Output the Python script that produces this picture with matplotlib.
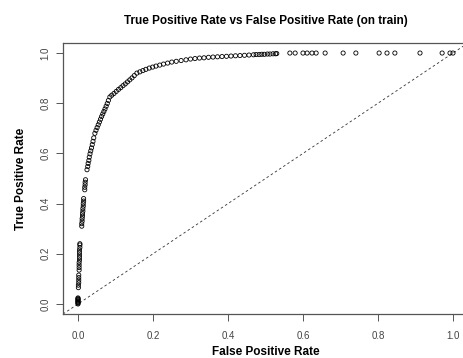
import matplotlib
matplotlib.use("Agg")
import matplotlib.pyplot as plt

plt.rcParams['font.family'] = ['Liberation Sans', 'DejaVu Sans']

# ROC points (false positive rate, true positive rate)
fpr = [
    0.000, 0.000, 0.000, 0.000, 0.000, 0.000, 0.000, 0.000, 0.000,
    0.001, 0.001, 0.002, 0.002, 0.002, 0.002,
    0.003, 0.003, 0.003, 0.003, 0.004, 0.004, 0.004, 0.004, 0.004, 0.005, 0.005, 0.005,
    0.010, 0.010, 0.011, 0.011, 0.012, 0.012, 0.013, 0.013, 0.014, 0.014, 0.015, 0.015,
    0.018, 0.018, 0.019, 0.019, 0.020,
    0.024, 0.026, 0.027, 0.029, 0.030, 0.032, 0.034, 0.036, 0.038, 0.040, 0.042, 0.045,
    0.048, 0.051, 0.054, 0.057, 0.060, 0.063, 0.066, 0.069, 0.072, 0.075, 0.078, 0.081, 0.085,
    0.090, 0.096, 0.102, 0.108, 0.114, 0.120, 0.126, 0.132, 0.138, 0.144, 0.150, 0.157,
    0.165, 0.173, 0.181, 0.190, 0.199, 0.208, 0.218, 0.228, 0.239, 0.250, 0.262, 0.275, 0.288, 0.300,
    0.312, 0.324, 0.336, 0.348, 0.360, 0.372, 0.384, 0.396, 0.408, 0.420, 0.432, 0.444, 0.456, 0.468,
    0.475, 0.483, 0.490, 0.497, 0.505, 0.512, 0.520, 0.527, 0.530,
    0.565, 0.579, 0.600, 0.611, 0.624, 0.635, 0.659, 0.707, 0.741,
    0.803, 0.824, 0.845, 0.912, 0.971, 0.992, 1.000,
]
tpr = [
    0.000, 0.003, 0.006, 0.009, 0.012, 0.015, 0.018, 0.021, 0.024,
    0.065, 0.075, 0.085, 0.095, 0.105, 0.115,
    0.135, 0.145, 0.155, 0.165, 0.175, 0.185, 0.195, 0.205, 0.215, 0.225, 0.235, 0.240,
    0.310, 0.320, 0.330, 0.340, 0.350, 0.360, 0.370, 0.380, 0.390, 0.400, 0.410, 0.420,
    0.455, 0.465, 0.475, 0.485, 0.495,
    0.535, 0.548, 0.560, 0.572, 0.585, 0.598, 0.610, 0.622, 0.635, 0.648, 0.662, 0.680,
    0.692, 0.703, 0.714, 0.725, 0.736, 0.747, 0.757, 0.767, 0.777, 0.788, 0.799, 0.811, 0.825,
    0.832, 0.839, 0.847, 0.855, 0.862, 0.870, 0.877, 0.885, 0.893, 0.901, 0.910, 0.920,
    0.925, 0.930, 0.935, 0.940, 0.944, 0.948, 0.952, 0.956, 0.960, 0.964, 0.967, 0.970, 0.973, 0.976,
    0.978, 0.980, 0.981, 0.983, 0.984, 0.985, 0.986, 0.987, 0.988, 0.989, 0.990, 0.991, 0.992, 0.993,
    0.994, 0.994, 0.995, 0.995, 0.996, 0.996, 0.997, 0.997, 0.998,
    1.000, 1.000, 1.000, 1.000, 1.000, 1.000, 1.000, 1.000, 1.000,
    1.000, 1.000, 1.000, 1.000, 1.000, 1.000, 1.000,
]
ticks = [0.0, 0.2, 0.4, 0.6, 0.8, 1.0]
tick_labels = ["0.0", "0.2", "0.4", "0.6", "0.8", "1.0"]

fig = plt.figure(figsize=(4.63, 3.58), dpi=100)
# plot box runs past the right edge of the picture, as in the reference
ax = fig.add_axes([63 / 463, 44 / 358, 405 / 463, 271 / 358])

ax.scatter(fpr, tpr, s=9, facecolors='none', edgecolors='black', linewidths=0.6, zorder=3)
ax.axline((0, 0), (1, 1), color='#333333', linestyle=(0, (3, 3)), linewidth=0.6)

ax.set_xlim(-0.04, 1.04)
ax.set_ylim(-0.04, 1.04)
ax.set_xticks(ticks)
ax.set_xticklabels(tick_labels)
ax.set_yticks(ticks)
ax.set_yticklabels(tick_labels, rotation=90, va='center')

for sp in ax.spines.values():
    sp.set_color('#555555')
    sp.set_linewidth(0.9)
ax.tick_params(direction='out', length=5, width=0.7, color='#555555',
               labelsize=7, labelcolor='#444444')
ax.tick_params(axis='x', pad=7)
ax.tick_params(axis='y', pad=4)

ax.set_xlabel("False Positive Rate", fontsize=8.5, fontweight='bold', labelpad=4)
ax.set_ylabel("True Positive Rate", fontsize=8.5, fontweight='bold', labelpad=10)
ax.set_title("True Positive Rate vs False Positive Rate (on train)",
             fontsize=8.5, fontweight='bold', pad=14)

fig.savefig("out.png", dpi=100)
